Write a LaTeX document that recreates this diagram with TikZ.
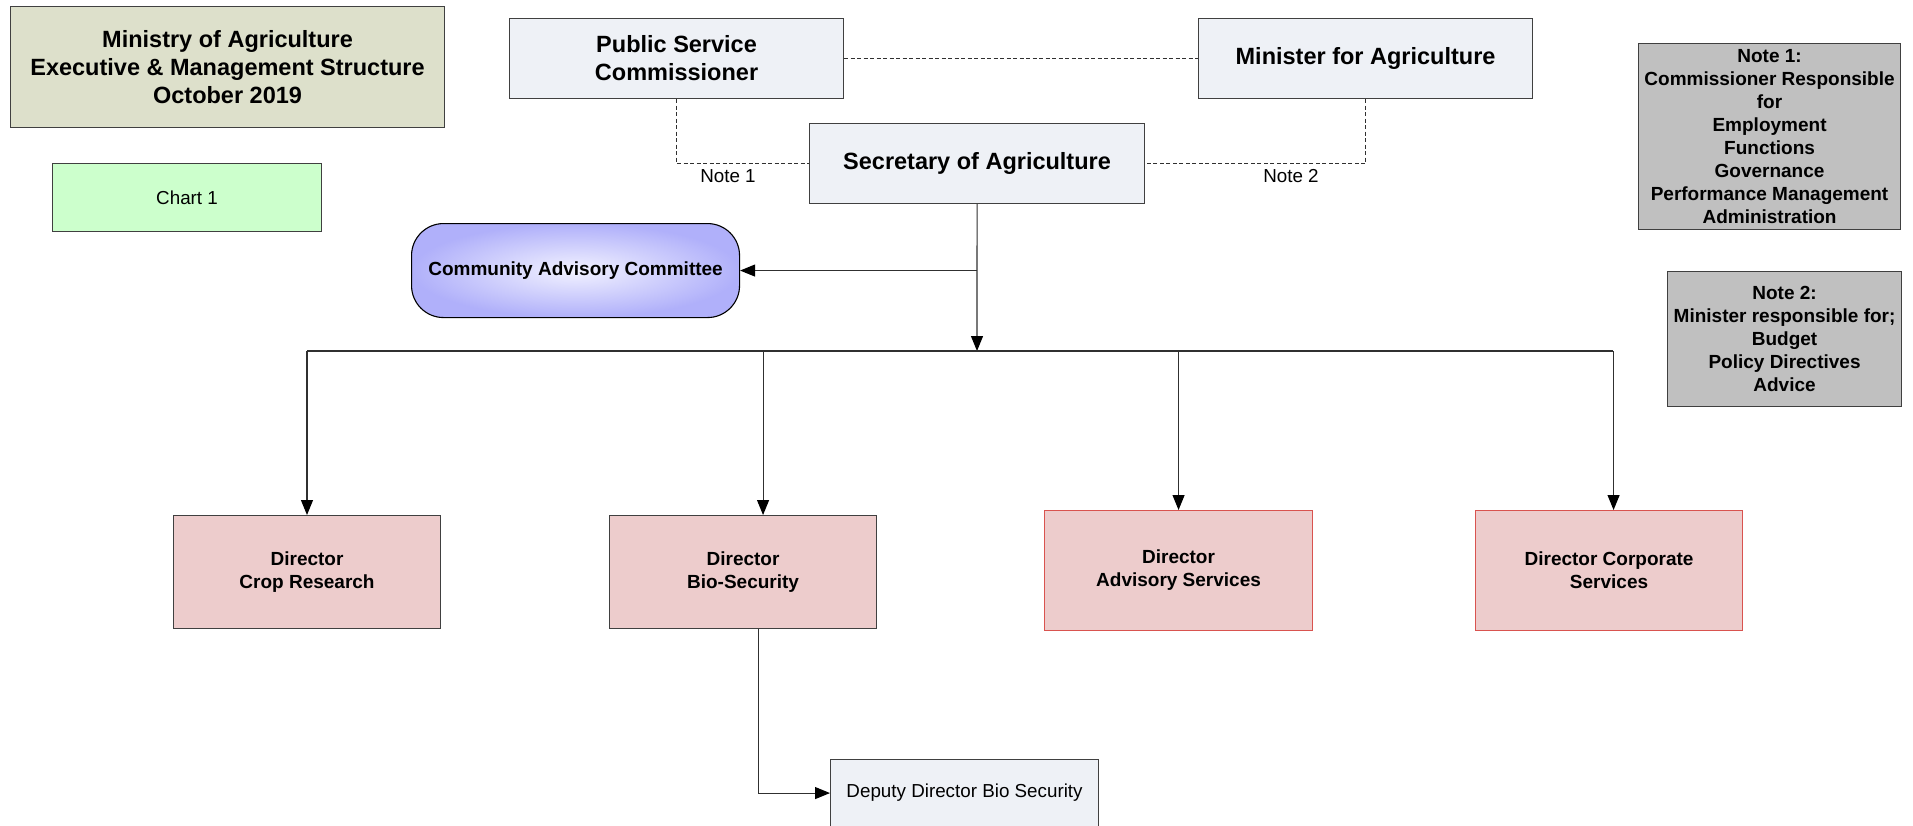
\documentclass[tikz,border=0pt]{standalone}
\usepackage{fontspec}
\setmainfont{Liberation Sans}
\usetikzlibrary{arrows.meta,calc}

\definecolor{boxline}{HTML}{404040}
\definecolor{linecol}{HTML}{303030}
\definecolor{titlefill}{HTML}{DDE0CB}
\definecolor{chartfill}{HTML}{CCFFCC}
\definecolor{postfill}{HTML}{EEF1F6}
\definecolor{dirfill}{HTML}{EDCCCC}
\definecolor{dirred}{HTML}{D9534F}
\definecolor{notefill}{HTML}{C0C0C0}
\definecolor{cacin}{HTML}{F2F2FF}
\definecolor{cacout}{HTML}{B0B0FA}

\begin{document}
\begin{tikzpicture}[x=1pt,y=-1pt,
  base/.style={draw=boxline, line width=1.1pt, inner sep=0pt, align=center, anchor=north west},
  big/.style={font=\bfseries\fontsize{23.5}{28}\selectfont},
  mid/.style={font=\bfseries\fontsize{19}{23}\selectfont},
  plain/.style={font=\fontsize{18.8}{22}\selectfont},
  postbox/.style={base, fill=postfill},
  dirbox/.style={base, fill=dirfill, mid},
  notebox/.style={base, fill=notefill, mid},
  ln/.style={draw=linecol, line width=1.1pt},
  arr/.style={ln, -{Triangle[length=15pt,width=12pt,color=black]}},
  dsh/.style={draw=linecol, line width=0.9pt, dash pattern=on 4pt off 2.5pt}
]
\clip (0,0) rectangle (1913,825);
\fill[white] (0,0) rectangle (1913,825);

% heading and chart tag
\node[base, fill=titlefill, big, minimum width=434pt, minimum height=121pt] (title) at (10,6)
  {Ministry of Agriculture\\Executive \& Management Structure\\October 2019};
\node[base, fill=chartfill, plain, minimum width=269pt, minimum height=68pt] (chart) at (52,163) {Chart 1};

% top level
\node[postbox, big, minimum width=334pt, minimum height=80pt] (psc) at (509,18) {Public Service\\Commissioner};
\node[postbox, big, minimum width=334pt, minimum height=80pt] (min) at (1198,18) {Minister for Agriculture};
\node[postbox, big, minimum width=335pt, minimum height=80pt] (sec) at (809,123) {Secretary of Agriculture};

% notes
\node[notebox, minimum width=262pt, minimum height=186pt] (note1) at (1638,43)
  {Note 1:\\Commissioner Responsible\\for\\Employment\\Functions\\Governance\\Performance Management\\Administration};
\node[notebox, minimum width=234pt, minimum height=135pt] (note2) at (1667,271)
  {Note 2:\\Minister responsible for;\\Budget\\Policy Directives\\Advice};

% advisory committee
\node[base, draw=black, rounded corners=32pt, inner color=cacin, outer color=cacout, mid,
      minimum width=328pt, minimum height=94pt] (cac) at (411,223) {Community Advisory Committee};

% directors
\node[dirbox, minimum width=267pt, minimum height=113pt] (crop) at (173,515) {Director\\Crop Research};
\node[dirbox, minimum width=267pt, minimum height=113pt] (bio) at (609,515) {Director\\Bio-Security};
\node[dirbox, draw=dirred, minimum width=268pt, minimum height=120pt] (adv) at (1044,510) {Director\\Advisory Services};
\node[dirbox, draw=dirred, minimum width=267pt, minimum height=120pt] (corp) at (1475,510) {Director Corporate\\Services};

\node[postbox, plain, minimum width=268pt, minimum height=67pt] (dep) at (830,759) {Deputy Director Bio Security};

% dashed reporting lines
\draw[dsh] (psc.east) -- (min.west);
\draw[dsh] (psc.south) |- (sec.west);
\draw[dsh] (min.south) |- (sec.east);
\node[plain] (n1lab) at (728,176) {Note 1};
\node[plain] (n2lab) at (1291,176) {Note 2};

% line management
\coordinate (bus) at (977,351);
\coordinate (busL) at (307,351);
\coordinate (busR) at (1613,351);
\coordinate (bioin) at ([xshift=20pt]bio.north);
\coordinate (corpin) at ([xshift=4.5pt]corp.north);
\coordinate (bioout) at ([xshift=15.5pt]bio.south);

\draw[arr] (sec.south) -- (bus);
\draw[arr] (sec.south |- cac.east) -- (cac.east);
\draw[ln] (busL) -- (busR);
\draw[arr] (busL) -- (busL |- crop.north);
\draw[arr] (bioin |- bus) -- (bioin);
\draw[arr] (adv.north |- bus) -- (adv.north);
\draw[arr] (corpin |- bus) -- (corpin);
\draw[arr] (bioout) |- (dep.west);
\end{tikzpicture}
\end{document}
